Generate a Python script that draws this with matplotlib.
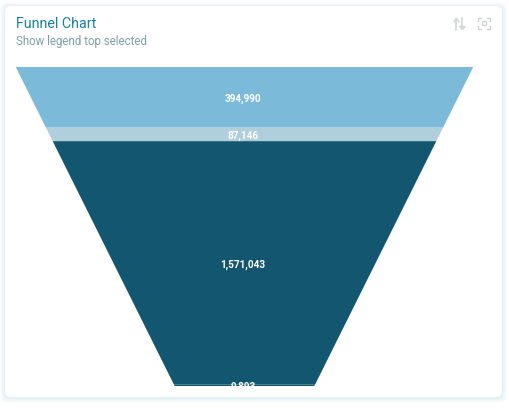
import matplotlib
matplotlib.use("Agg")

import matplotlib.pyplot as plt
from matplotlib.patches import FancyBboxPatch, Rectangle

W, H = 509, 408

# funnel data, top to bottom
values = [394990, 87146, 1571043, 9893]
labels = ["394,990", "87,146", "1,571,043", "9,893"]
colors = ["#7bbbd9", "#b0cedb", "#135670", "#135670"]
neck_ratio = 0.305

title = "Funnel Chart"
subtitle = "Show legend top selected"

plt.rcParams["font.family"] = ["Roboto", "DejaVu Sans"]

fig = plt.figure(figsize=(W / 100, H / 100), dpi=100, facecolor="white")

# page layer in pixel coordinates, for the card and the header
bg = fig.add_axes([0, 0, 1, 1])
bg.set_xlim(0, W)
bg.set_ylim(H, 0)
bg.axis("off")

# soft card shadow
for grow, alpha in [(5, 0.08), (4, 0.10), (3, 0.14), (2, 0.20), (1, 0.30)]:
    bg.add_patch(FancyBboxPatch(
        (5 - grow, 6 - grow + 1), 497 + 2 * grow, 391 + 2 * grow,
        boxstyle="round,pad=0,rounding_size=6",
        fc="#d3e8ef", ec="none", alpha=alpha,
    ))
bg.add_patch(FancyBboxPatch(
    (5, 6), 497, 391, boxstyle="round,pad=0,rounding_size=6",
    fc="white", ec="none",
))

bg.text(16, 24.5, title, fontsize=10.3, color="#14829f", va="center", ha="left")
bg.text(16, 42, subtitle, fontsize=8.3, color="#7f9fa8", va="center", ha="left")

# sort icon
icon = "#cfd3d5"
bg.plot([456.5, 456.5], [19, 30], color=icon, lw=1.1)
bg.plot([454, 456.5, 459], [21.5, 18.5, 21.5], color=icon, lw=1.1)
bg.plot([462.5, 462.5], [18, 28], color=icon, lw=1.1)
bg.plot([460, 462.5, 465, 460], [26.5, 29.5, 26.5, 26.5], color=icon, lw=0.9)

# focus icon
for x, y, dx, dy in [(478, 17.5, 1, 1), (490, 17.5, -1, 1), (478, 29, 1, -1), (490, 29, -1, -1)]:
    bg.plot([x + 3 * dx, x, x], [y, y, y + 3 * dy], color=icon, lw=1.0)
bg.add_patch(Rectangle((482, 21), 4, 4, fc="none", ec=icon, lw=1.0))

# funnel layer: y is the running total, x is the half width
ax = fig.add_axes([15.5 / W, 1 - 386 / H, 458 / W, (386 - 66.5) / H])
ax.patch.set_alpha(0)
ax.axis("off")
total = sum(values)
ax.set_xlim(-1, 1)
ax.set_ylim(total, 0)


def half_width(y):
    return 1 - (1 - neck_ratio) * y / total


top = 0
for value, label, color in zip(values, labels, colors):
    bottom = top + value
    ax.fill(
        [-half_width(top), half_width(top), half_width(bottom), -half_width(bottom)],
        [top, top, bottom, bottom],
        color=color, lw=0,
    )
    # labels sit a little under the band centre
    ax.annotate(label, (0, top + value / 2), xytext=(-1, -1.1), textcoords="offset points",
                color="white", fontsize=7.2, fontweight="bold",
                ha="center", va="center", annotation_clip=False)
    top = bottom

fig.savefig("out.png", dpi=100)
